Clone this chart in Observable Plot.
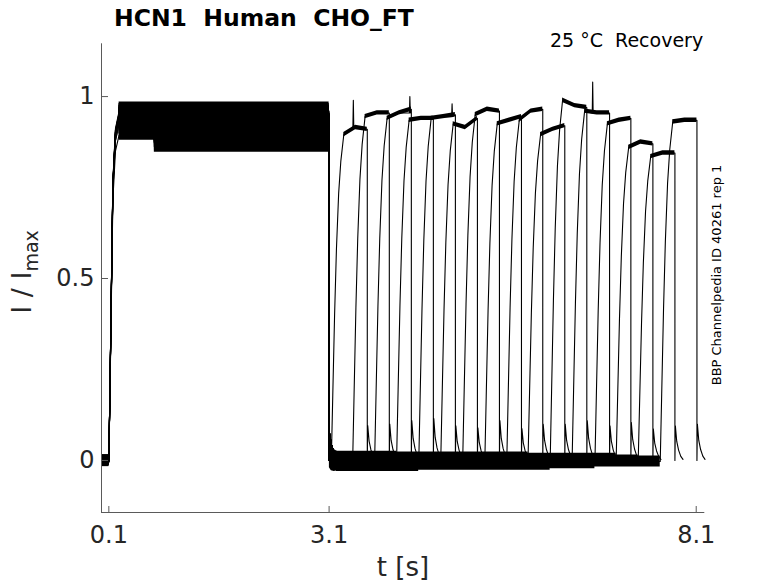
<!DOCTYPE html>
<html><head><meta charset="utf-8">
<script src="https://cdn.jsdelivr.net/npm/d3@7"></script>
<script src="https://cdn.jsdelivr.net/npm/@observablehq/plot@0.6"></script>
<style>body{margin:0;background:#fff} svg text{white-space:pre}</style>
</head><body><div id="chart"></div>
<script>
// ---- axes ----
const xDomain = [0, 8.217];
const yDomain = [-0.143, 1.145];
const xTicks = [0.1, 3.1, 8.1];
const yTicks = [0, 0.5, 1];

// ---- protocol / sweep values ----
const preStart = 0.008;
const pulse1Start = 0.1;
const pulse1End = 3.1;
const pulse1StepTime = 0.71;
const pulse1Early = [0.945, 0.95, 0.94, 0.955, 0.945, 0.925, 0.95, 0.94, 0.955, 0.925, 0.96, 0.95, 0.94, 0.895, 0.945, 0.945];
const pulse1Late  = [0.945, 0.95, 0.94, 0.955, 0.945, 0.925, 0.95, 0.94, 0.955, 0.925, 0.96, 0.95, 0.94, 0.885, 0.862, 0.945];
const pulse1Noise = [0.025, 0.025, 0.025, 0.025, 0.025, 0.028, 0.025, 0.025, 0.025, 0.028, 0.025, 0.025, 0.025, 0.015, 0.015, 0.025];
const preOffset   = [-0.003, 0.002, -0.005, 0.0, 0.003, -0.002, 0.001, -0.004, 0.002, 0.0, -0.003, 0.004, -0.001, 0.002, -0.002, 0.0];
const baseOffset  = [0.005, -0.01, 0.0, 0.01, -0.015, -0.005, 0.005, -0.01, 0.0, 0.008, -0.012, 0.003, -0.008, 0.005, 0.0, -0.003];
const pulse2Start = [3.13, 3.42, 3.72, 4.02, 4.32, 4.62, 4.92, 5.22, 5.52, 5.81, 6.11, 6.41, 6.72, 7.01, 7.31, 7.61];
const pulse2End   = [3.62, 3.92, 4.22, 4.52, 4.82, 5.12, 5.42, 5.72, 6.01, 6.31, 6.61, 6.92, 7.21, 7.51, 7.81, 8.11];
const plateau2Start = [0.895, 0.945, 0.94, 0.935, 0.94, 0.925, 0.95, 0.925, 0.935, 0.895, 0.99, 0.96, 0.925, 0.86, 0.835, 0.93];
const plateau2Mid   = [0.915, 0.955, 0.955, 0.94, 0.945, 0.915, 0.965, 0.935, 0.96, 0.91, 0.975, 0.955, 0.935, 0.875, 0.845, 0.935];
const plateau2End   = [0.91, 0.955, 0.965, 0.94, 0.95, 0.94, 0.96, 0.945, 0.965, 0.92, 0.97, 0.955, 0.94, 0.87, 0.845, 0.935];
const tail2Peak     = [0.096, 0.1, 0.11, 0.115, 0.095, 0.09, 0.11, 0.088, 0.1, 0.1, 0.11, 0.095, 0.105, 0.087, 0.095, 0.1];
const spikeSweep = [0, 2, 4, 11];
const spikeTime  = [3.43, 4.2, 4.775, 6.69];
const spikeValue = [0.99, 1.0, 0.98, 1.04];
// shapes: [seconds after onset, fraction of plateau]
const rise1Shape = [[0, 0], [0.015, 0.2], [0.035, 0.5], [0.055, 0.8], [0.09, 0.95], [0.14, 1]];
const rise2Shape = [[0, 0], [0.02, 0.2], [0.045, 0.45], [0.07, 0.65], [0.1, 0.82], [0.13, 0.92], [0.17, 1]];
// [seconds after step-back, I/Imax]
const tail1Shape = [[0, 0], [0.005, 0.075], [0.03, 0.045], [0.06, 0.025], [0.1, 0.01], [0.15, 0]];
// common envelope of all sweeps just after the step-back at 3.1 s
const tail1BandT  = [3.104, 3.13, 3.17, 3.22];
const tail1BandLo = [-0.02, -0.028, -0.03, -0.028];
const tail1BandHi = [0.075, 0.045, 0.03, 0.024];
// [seconds after pulse end, fraction of tail peak]
const tail2Shape = [[0, 0], [0.006, 1], [0.025, 0.55], [0.05, 0.3], [0.08, 0.12], [0.11, 0.03]];
const preNoise = 0.012, baseNoise = 0.015, plateau2Noise = 0.006;

// ---- build traces ----
const points = [];
const bands = [];
for (let i = 0; i < pulse2Start.length; i++) {
  const p = [];
  const s = pulse2Start[i], e = pulse2End[i];
  p.push([preStart, preOffset[i]], [pulse1Start, preOffset[i]]);
  rise1Shape.forEach(([dt, f]) => p.push([pulse1Start + dt, f * pulse1Early[i]]));
  p.push([pulse1StepTime, pulse1Early[i]], [pulse1StepTime + 0.01, pulse1Late[i]], [pulse1End, pulse1Late[i]]);
  tail1Shape.forEach(([dt, v]) => { if (pulse1End + dt < s) p.push([pulse1End + dt, v]); });
  const tailEnd = pulse1End + tail1Shape[tail1Shape.length - 1][0];
  if (s > tailEnd) p.push([tailEnd, baseOffset[i]], [s, baseOffset[i]]);
  const b0 = s > tailEnd ? baseOffset[i] : 0;
  rise2Shape.forEach(([dt, f]) => p.push([s + dt, b0 * (1 - f) + f * plateau2Start[i]]));
  const riseEnd = s + rise2Shape[rise2Shape.length - 1][0];
  const tm = (riseEnd + e) / 2;
  p.push([tm, plateau2Mid[i]], [e, plateau2End[i]]);
  tail2Shape.forEach(([dt, f]) => p.push([e + dt, f * tail2Peak[i]]));
  spikeSweep.forEach((sw, k) => {
    if (sw === i) p.push([spikeTime[k] - 0.006, plateau2Mid[i]], [spikeTime[k], spikeValue[k]], [spikeTime[k] + 0.006, plateau2Mid[i]]);
  });
  p.sort((a, b) => a[0] - b[0]);
  p.forEach(([t, v]) => points.push({sweep: i, t, v}));

  // noise envelopes
  const add = (seg, t, c, n) => bands.push({seg: seg + i, t, lo: c - n, hi: c + n});
  add("pre", preStart, preOffset[i], preNoise);
  add("pre", pulse1Start, preOffset[i], preNoise);
  const p1s = pulse1Start + rise1Shape[rise1Shape.length - 1][0];
  add("p1", p1s, pulse1Early[i], pulse1Noise[i]);
  add("p1", pulse1StepTime, pulse1Early[i], pulse1Noise[i]);
  add("p1", pulse1StepTime + 0.01, pulse1Late[i], pulse1Noise[i]);
  add("p1", pulse1End, pulse1Late[i], pulse1Noise[i]);
  const baseFrom = tail1BandT[tail1BandT.length - 1] - 0.02;
  if (s > baseFrom) {
    add("base", baseFrom, baseOffset[i], baseNoise);
    add("base", s, baseOffset[i], baseNoise);
  }
  add("p2", riseEnd, plateau2Start[i], plateau2Noise);
  add("p2", tm, plateau2Mid[i], plateau2Noise);
  add("p2", e, plateau2End[i], plateau2Noise);
}
tail1BandT.forEach((t, k) => bands.push({seg: "tail1", t, lo: tail1BandLo[k], hi: tail1BandHi[k]}));

const axisGray = "#5a5a5a";
const textColor = "#262626";

const chart = Plot.plot({
  width: 778, height: 583,
  marginLeft: 101, marginRight: 73.7, marginTop: 43.3, marginBottom: 71,
  x: {domain: xDomain, label: null},
  y: {domain: yDomain, label: null},
  style: {background: "white", fontFamily: "DejaVu Sans"},
  marks: [
    Plot.areaY(bands, {x: "t", y1: "lo", y2: "hi", z: "seg", fill: "black"}),
    Plot.line(points, {x: "t", y: "v", z: "sweep", stroke: "black", strokeWidth: 1.1}),
    Plot.ruleX([xDomain[0]], {stroke: axisGray, strokeWidth: 1}),
    Plot.ruleY([yDomain[0]], {stroke: axisGray, strokeWidth: 1}),
    Plot.axisX({ticks: xTicks, tickSize: -6, tickFormat: () => "", stroke: axisGray, label: null}),
    Plot.axisX({ticks: xTicks, tickSize: 0, tickPadding: 13, tickFormat: d => String(d), fontSize: 24, color: textColor, label: null}),
    Plot.axisY({ticks: yTicks, tickSize: -7, tickFormat: () => "", stroke: axisGray, label: null}),
    Plot.axisY({ticks: yTicks, tickSize: 0, tickPadding: 7, tickFormat: d => String(d), fontSize: 24, color: textColor, label: null})
  ]
});
document.getElementById("chart").appendChild(chart);

const svg = d3.select(chart);
svg.append("text").attr("x", 114).attr("y", 26).attr("text-anchor", "start")
  .attr("font-family", "DejaVu Sans").attr("font-weight", "bold").attr("font-size", 23.5)
  .attr("fill", "#000").text("HCN1  Human  CHO_FT");
svg.append("text").attr("x", 550).attr("y", 47).attr("text-anchor", "start")
  .attr("font-family", "DejaVu Sans").attr("font-size", 19)
  .attr("fill", "#000").text("25 °C  Recovery");
svg.append("text").attr("transform", "translate(721,275) rotate(-90)")
  .attr("text-anchor", "middle")
  .attr("font-family", "DejaVu Sans").attr("font-size", 13)
  .attr("fill", "#000").text("BBP Channelpedia ID 40261 rep 1");
svg.append("text").attr("x", 403).attr("y", 576).attr("text-anchor", "middle")
  .attr("font-family", "DejaVu Sans").attr("font-size", 26)
  .attr("fill", textColor).text("t [s]");
const yl = svg.append("text").attr("transform", "translate(31,272) rotate(-90)")
  .attr("text-anchor", "middle")
  .attr("font-family", "DejaVu Sans").attr("font-size", 27).attr("fill", textColor);
yl.append("tspan").text("I / I");
yl.append("tspan").attr("font-size", 19).attr("dy", 7).text("max");
</script></body></html>
